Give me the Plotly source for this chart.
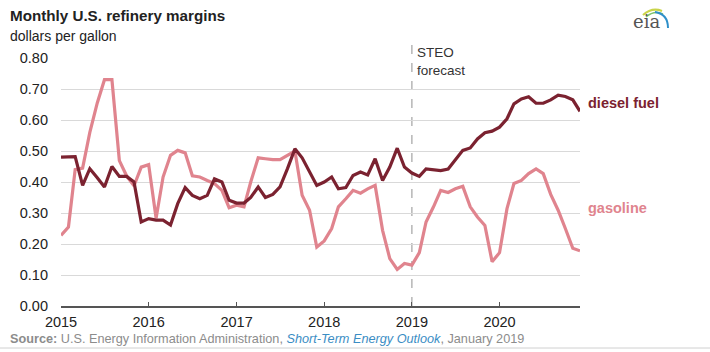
import plotly.graph_objects as go
import pandas as pd

months = pd.date_range("2015-01-01", "2020-12-01", freq="MS")

diesel = [0.48, 0.48, 0.482, 0.389, 0.443, 0.414, 0.384, 0.45, 0.418, 0.418, 0.40, 0.271,
          0.282, 0.277, 0.277, 0.261, 0.33, 0.382, 0.357, 0.346, 0.357, 0.41, 0.40, 0.341,
          0.332, 0.332, 0.35, 0.384, 0.35, 0.36, 0.384, 0.443, 0.507, 0.478, 0.434, 0.389,
          0.40, 0.416, 0.378, 0.382, 0.421, 0.432, 0.423, 0.475, 0.405, 0.448, 0.509, 0.448,
          0.429, 0.418, 0.442, 0.44, 0.437, 0.442, 0.472, 0.502, 0.51, 0.539, 0.559, 0.564,
          0.577, 0.604, 0.652, 0.668, 0.675, 0.654, 0.654, 0.665, 0.68, 0.676, 0.665, 0.628]

gasoline = [0.228, 0.255, 0.44, 0.445, 0.56, 0.655, 0.73, 0.73, 0.469, 0.42, 0.388, 0.448,
            0.456, 0.283, 0.416, 0.486, 0.502, 0.494, 0.42, 0.416, 0.405, 0.395, 0.373, 0.317,
            0.325, 0.32, 0.40, 0.478, 0.475, 0.472, 0.472, 0.486, 0.50, 0.357, 0.309, 0.19,
            0.21, 0.25, 0.32, 0.346, 0.373, 0.364, 0.378, 0.389, 0.244, 0.153, 0.118, 0.137,
            0.132, 0.172, 0.271, 0.32, 0.373, 0.366, 0.378, 0.386, 0.32, 0.287, 0.26, 0.143,
            0.172, 0.314, 0.395, 0.405, 0.427, 0.442, 0.427, 0.36, 0.309, 0.25, 0.186, 0.178]

y_ticks = [0.0, 0.1, 0.2, 0.3, 0.4, 0.5, 0.6, 0.7, 0.8]
y_tick_labels = ["0.00", "0.10", "0.20", "0.30", "0.40", "0.50", "0.60", "0.70", "0.80"]
forecast_start = "2019-01-01"

DIESEL_C = "#7b2230"
GAS_C = "#e0848e"
FONT = "Liberation Sans, Arial, sans-serif"

W, H = 710, 352
L, R, T, B = 61, 130, 58, 46


def px(x):
    return (x - L) / (W - L - R)


def py(y):
    return (H - B - y) / (H - T - B)


fig = go.Figure()
fig.add_trace(go.Scatter(x=months, y=gasoline, mode="lines", name="gasoline",
                         line=dict(color=GAS_C, width=3.2), hoverinfo="x+y"))
fig.add_trace(go.Scatter(x=months, y=diesel, mode="lines", name="diesel fuel",
                         line=dict(color=DIESEL_C, width=3.2), hoverinfo="x+y"))

shapes = [
    dict(type="line", xref="x", yref="paper", x0=forecast_start, x1=forecast_start,
         y0=0, y1=py(42), line=dict(color="#aaaaaa", width=1.3, dash="dash"), layer="below"),
    dict(type="line", xref="paper", yref="paper", x0=px(0), x1=px(710), y0=py(348), y1=py(348),
         line=dict(color="#d0d0d0", width=1)),
    # eia logo arcs
    dict(type="path", xref="paper", yref="paper",
         path=f"M {px(643)} {py(15)} Q {px(652)} {py(7)} {px(662)} {py(11)}",
         line=dict(color="#c9d44a", width=2.2)),
    dict(type="path", xref="paper", yref="paper",
         path=f"M {px(646)} {py(17)} Q {px(654)} {py(10)} {px(663)} {py(14)}",
         line=dict(color="#7fc36b", width=1.6)),
    dict(type="path", xref="paper", yref="paper",
         path=f"M {px(655)} {py(12)} Q {px(668)} {py(14)} {px(668)} {py(28)}",
         line=dict(color="#2e8fc9", width=2)),
]

annotations = [
    dict(text="<b>Monthly U.S. refinery margins</b>", xref="paper", yref="paper",
         x=px(8), y=py(16), xanchor="left", yanchor="middle", showarrow=False,
         font=dict(size=15.2, color="#222222", family=FONT)),
    dict(text="dollars per gallon", xref="paper", yref="paper",
         x=px(8), y=py(36), xanchor="left", yanchor="middle", showarrow=False,
         font=dict(size=14, color="#222222", family=FONT)),
    dict(text="STEO<br>forecast", xref="x", yref="paper", x=forecast_start, xshift=3,
         y=py(43), xanchor="left", yanchor="top", align="left", showarrow=False,
         font=dict(size=13.5, color="#333333", family=FONT)),
    dict(text="<b>diesel fuel</b>", xref="paper", yref="paper", x=px(586), y=py(103),
         xanchor="left", yanchor="middle", showarrow=False,
         font=dict(size=14.5, color=DIESEL_C, family=FONT)),
    dict(text="<b>gasoline</b>", xref="paper", yref="paper", x=px(586), y=py(208),
         xanchor="left", yanchor="middle", showarrow=False,
         font=dict(size=14.5, color=GAS_C, family=FONT)),
    dict(text="<b>Source:</b> U.S. Energy Information Administration, "
              "<span style='color:#3a8dc4'><i>Short-Term Energy Outlook</i></span>, January 2019",
         xref="paper", yref="paper", x=px(8), y=py(339), xanchor="left", yanchor="middle",
         showarrow=False, font=dict(size=12.7, color="#8c8c8c", family=FONT)),
    dict(text="eia", xref="paper", yref="paper", x=px(646), y=py(21), xanchor="center",
         yanchor="middle", showarrow=False,
         font=dict(size=18, color="#555555", family="DejaVu Serif, serif")),
]

fig.update_layout(
    width=W, height=H,
    margin=dict(l=L, r=R, t=T, b=B),
    paper_bgcolor="white", plot_bgcolor="white",
    showlegend=False,
    font=dict(family=FONT, size=14, color="#333333"),
    shapes=shapes,
    annotations=annotations,
    xaxis=dict(
        type="date",
        range=["2015-01-01", "2020-12-01"],
        tick0="2015-01-01", dtick="M12", tickformat="%Y",
        showgrid=False, zeroline=False,
        showline=True, linecolor="#555555", linewidth=1.5,
        ticks="inside", ticklen=4, tickcolor="#555555", tickwidth=1.2,
        tickfont=dict(size=14.5, color="#222222"),
        ticklabelstandoff=2,
    ),
    yaxis=dict(
        range=[0, 0.8],
        tickvals=y_ticks, ticktext=y_tick_labels,
        showgrid=True, gridcolor="#d9d9d9", gridwidth=1,
        zeroline=False, showline=False, ticks="",
        tickfont=dict(size=14.5, color="#222222"),
        ticklabelstandoff=12,
    ),
)

fig.write_html("out.html")
